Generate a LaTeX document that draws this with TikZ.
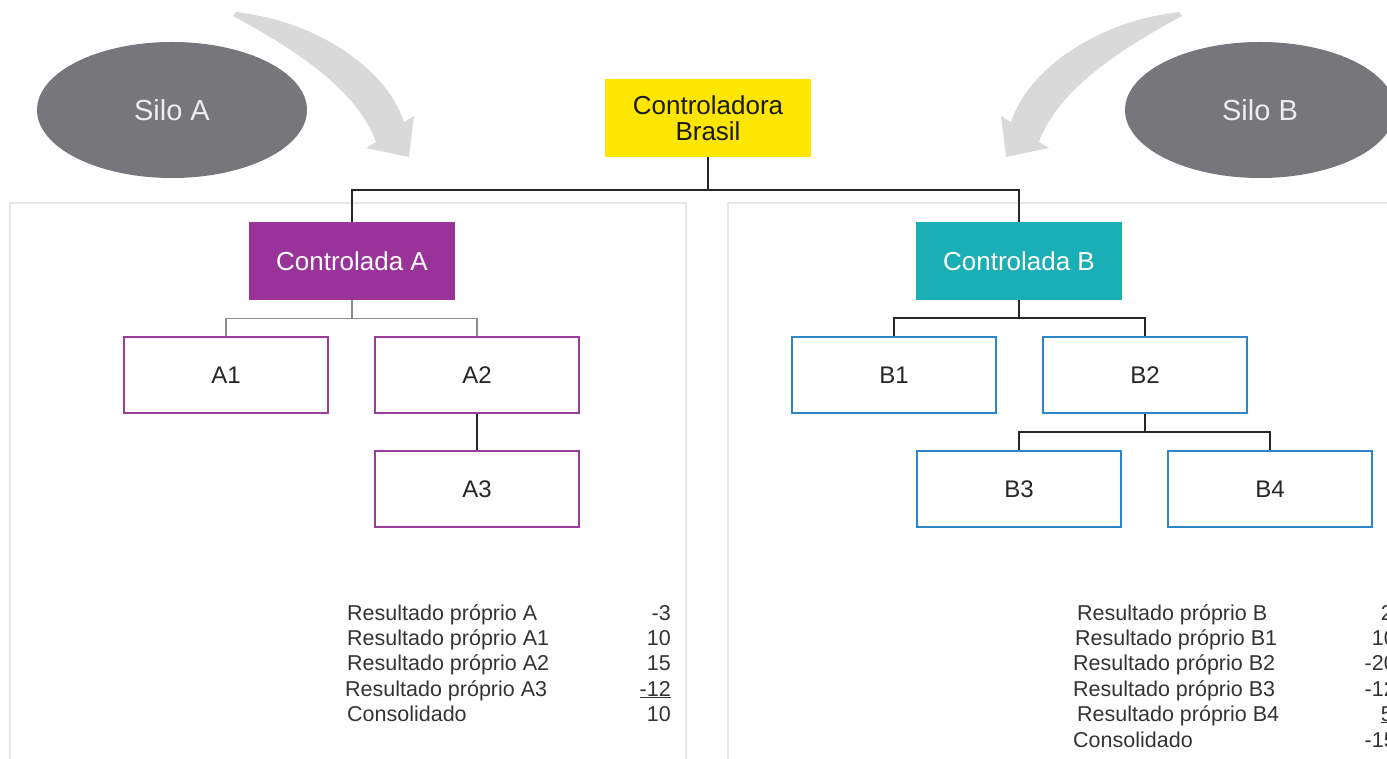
\documentclass[tikz,border=0pt]{standalone}
\usepackage{fontspec}
\setmainfont{Liberation Sans}
\usetikzlibrary{shapes.geometric}
\definecolor{silogray}{HTML}{77777B}
\definecolor{arrowgray}{HTML}{D9D9D9}
\definecolor{ctrlY}{HTML}{FFE600}
\definecolor{ctrlA}{HTML}{993399}
\definecolor{ctrlB}{HTML}{1AAEB6}
\definecolor{subA}{HTML}{9B3C9B}
\definecolor{subB}{HTML}{2E86C8}
\definecolor{panelgray}{HTML}{E8E8E8}
\definecolor{txt}{HTML}{333333}
\definecolor{lineA}{HTML}{8C8C8C}
\begin{document}
\begin{tikzpicture}[x=1pt,y=-1pt,
  siloshape/.style={ellipse, fill=silogray, draw=none, minimum width=270pt, minimum height=136pt, inner sep=0pt, text=white!93!black, font=\fontsize{29}{31}\selectfont},
  topbox/.style={rectangle, fill=ctrlY, minimum width=206pt, minimum height=78pt, inner sep=0pt, align=center, text=black!90, font=\fontsize{26}{29}\selectfont},
  ctrlbox/.style={rectangle, minimum width=206pt, minimum height=78pt, inner sep=0pt, text=white, font=\fontsize{26}{29}\selectfont},
  subbox/.style={rectangle, fill=white, line width=1.8pt, minimum width=204pt, minimum height=76pt, inner sep=0pt, text=black!85, font=\fontsize{24}{28}\selectfont},
  conn/.style={draw=black!85, line width=1.6pt},
  connA/.style={draw=lineA, line width=1.1pt},
  lbl/.style={anchor=base west, inner sep=0pt, text=txt, font=\fontsize{21.5}{24}\selectfont},
  val/.style={anchor=base east, inner sep=0pt, text=txt, font=\fontsize{21.5}{24}\selectfont},
  bigarrow/.style={fill=arrowgray, draw=none}
]
\useasboundingbox (0,0) rectangle (1387,759);
\clip (0,0) rectangle (1387,759);

% panels
\draw[panelgray, line width=1.5pt] (10,770) -- (10,203) -- (686,203) -- (686,770);
\draw[panelgray, line width=1.5pt] (728,770) -- (728,203) -- (1400,203);

% curved arrows
\path[bigarrow] (236,12) .. controls (322,22) and (388,72) .. (404,122)
  -- (414,116) -- (409,157) -- (366,148) -- (376,142)
  .. controls (358,92) and (300,52) .. (233,16) -- cycle;
\begin{scope}[xshift=1415pt, xscale=-1]
\path[bigarrow] (236,12) .. controls (322,22) and (388,72) .. (404,122)
  -- (414,116) -- (409,157) -- (366,148) -- (376,142)
  .. controls (358,92) and (300,52) .. (233,16) -- cycle;
\end{scope}

% silos
\node[siloshape] (siloA) at (172,110) {Silo A};
\node[siloshape] (siloB) at (1260,110) {Silo B};

% top
\node[topbox] (brasil) at (708,118) {Controladora\\[-3pt]Brasil};

\node[ctrlbox, fill=ctrlA] (ctA) at (352,261) {Controlada A};
\node[ctrlbox, fill=ctrlB] (ctB) at (1019,261) {Controlada B};

\node[subbox, draw=subA] (A1) at (226,375) {A1};
\node[subbox, draw=subA] (A2) at (477,375) {A2};
\node[subbox, draw=subA] (A3) at (477,489) {A3};

\node[subbox, draw=subB] (B1) at (894,375) {B1};
\node[subbox, draw=subB] (B2) at (1145,375) {B2};
\node[subbox, draw=subB] (B3) at (1019,489) {B3};
\node[subbox, draw=subB] (B4) at (1270,489) {B4};

% connectors
\draw[conn] (brasil.south) -- ++(0,33) coordinate (hub);
\draw[conn] (ctA.north) |- (hub) -| (ctB.north);

\draw[connA] (ctA.south) -- ++(0,18) coordinate (hubA);
\draw[connA] (A1.north) |- (hubA) -| (A2.north);
\draw[conn] (A2.south) -- (A3.north);

\draw[conn] (ctB.south) -- ++(0,18) coordinate (hubB);
\draw[conn] (B1.north) |- (hubB) -| (B2.north);
\draw[conn] (B2.south) -- ++(0,18) coordinate (hubB2);
\draw[conn] (B3.north) |- (hubB2) -| (B4.north);

% table A
\node[lbl] (la1) at (347,620) {Resultado próprio A};
\node[lbl] (la2) at (347,645) {Resultado próprio A1};
\node[lbl] (la3) at (347,670) {Resultado próprio A2};
\node[lbl] (la4) at (345,696) {Resultado próprio A3};
\node[lbl] (la5) at (347,721) {Consolidado};
\node[val] (va1) at (671,620) {-3};
\node[val] (va2) at (671,645) {10};
\node[val] (va3) at (671,670) {15};
\node[val] (va4) at (671,696) {\underline{-12}};
\node[val] (va5) at (671,721) {10};

% table B
\node[lbl] (lb1) at (1077,620) {Resultado próprio B};
\node[lbl] (lb2) at (1075,645) {Resultado próprio B1};
\node[lbl] (lb3) at (1073,670) {Resultado próprio B2};
\node[lbl] (lb4) at (1073,696) {Resultado próprio B3};
\node[lbl] (lb5) at (1077,721) {Resultado próprio B4};
\node[lbl] (lb6) at (1073,747) {Consolidado};
\node[val] (vb1) at (1393,620) {2};
\node[val] (vb2) at (1396,645) {10};
\node[val] (vb3) at (1396,670) {-20};
\node[val] (vb4) at (1396,696) {-12};
\node[val] (vb5) at (1393,721) {\underline{5}};
\node[val] (vb6) at (1396,747) {-15};
\end{tikzpicture}
\end{document}
